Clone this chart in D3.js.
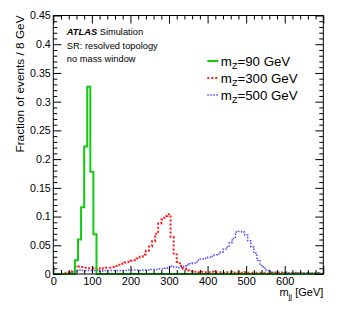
<!DOCTYPE html>
<html>
<head>
<meta charset="utf-8">
<script src="https://cdn.jsdelivr.net/npm/d3@7"></script>
<style>
  body { margin: 0; background: #fff; }
  svg { font-family: "Liberation Sans", Arial, Helvetica, sans-serif; }
</style>
</head>
<body>
<div id="chart"></div>
<script>
// bin low edges (8 GeV bins)
const binWidth = 8;
const binEdges = d3.range(0, 704, binWidth);

// m_Z = 90 GeV
const valuesZ90 = [
  0, 0, 0, 0, 0, 0, 0, 0.024, 0.060, 0.116, 0.222, 0.326, 0.178, 0.069,
  0, 0, 0, 0, 0, 0, 0, 0, 0, 0, 0, 0, 0, 0, 0, 0, 0, 0, 0, 0, 0, 0, 0, 0,
  0, 0, 0, 0, 0, 0, 0, 0, 0, 0, 0, 0, 0, 0, 0, 0, 0, 0, 0, 0, 0, 0, 0, 0,
  0, 0, 0, 0, 0, 0, 0, 0, 0, 0, 0, 0, 0, 0, 0, 0, 0, 0, 0, 0, 0, 0, 0, 0,
  0, 0
];
// m_Z = 300 GeV
const valuesZ300 = [
  0, 0, 0, 0.001, 0.002, 0.003, 0.005, 0.012, 0.013, 0.012, 0.011, 0.010,
  0.010, 0.009, 0.010, 0.009, 0.010, 0.011, 0.011, 0.012, 0.014, 0.016,
  0.018, 0.020, 0.021, 0.023, 0.024, 0.027, 0.030, 0.034, 0.041, 0.048,
  0.057, 0.070, 0.088, 0.095, 0.101, 0.104, 0.065, 0.034, 0.021, 0.014,
  0.009, 0.006, 0.005, 0.004, 0.004, 0.003, 0.004, 0.003, 0.003, 0.004,
  0.003, 0.003, 0.003, 0.002, 0.003, 0.003, 0.002, 0.003, 0.002, 0.002,
  0.003, 0.002, 0.002, 0.002, 0.002, 0.002, 0.002, 0.001, 0.002, 0.002,
  0.001, 0.002, 0.001, 0.002, 0.001, 0.001, 0.002, 0.001, 0.001, 0.001,
  0.001, 0.001, 0.001, 0.001, 0.001, 0.001
];
// m_Z = 500 GeV
const valuesZ500 = [
  0, 0, 0, 0, 0.001, 0.002, 0.004, 0.006, 0.007, 0.006, 0.006, 0.006,
  0.006, 0.006, 0.006, 0.005, 0.006, 0.006, 0.006, 0.006, 0.006, 0.006,
  0.006, 0.006, 0.007, 0.007, 0.007, 0.007, 0.006, 0.007, 0.007, 0.008,
  0.008, 0.008, 0.009, 0.009, 0.010, 0.012, 0.014, 0.012, 0.011, 0.011,
  0.013, 0.016, 0.018, 0.019, 0.021, 0.026, 0.026, 0.027, 0.029, 0.031,
  0.033, 0.035, 0.038, 0.043, 0.047, 0.055, 0.062, 0.073, 0.074, 0.073,
  0.068, 0.058, 0.047, 0.036, 0.024, 0.015, 0.010, 0.006, 0.004, 0.003,
  0.003, 0.003, 0.002, 0.003, 0.002, 0.002, 0.002, 0.002, 0.002, 0.002,
  0.002, 0.001, 0.002, 0.002, 0.001, 0.001
];

const seriesNames = ["90", "300", "500"];
const seriesColors = ["#11cc11", "#ff1a1a", "#4d4dff"];

const xMajor = [0, 100, 200, 300, 400, 500, 600, 700];
const xTickLabels = ["0", "100", "200", "300", "400", "500", "600", ""];
const yMajor = [0, 0.05, 0.1, 0.15, 0.2, 0.25, 0.3, 0.35, 0.4, 0.45];
const yTickLabels = ["0", "0.05", "0.1", "0.15", "0.2", "0.25", "0.3", "0.35", "0.4", "0.45"];

const W = 341, H = 327;
const margin = {top: 15.5, right: 17.7, bottom: 53, left: 53.3};
const width = W - margin.left - margin.right,
      height = H - margin.top - margin.bottom;

const svg = d3.select("#chart").append("svg")
  .attr("width", W).attr("height", H);

const g = svg.append("g")
  .attr("transform", `translate(${margin.left},${margin.top})`);

const x = d3.scaleLinear().domain([0, 700]).range([0, width]);
const y = d3.scaleLinear().domain([0, 0.45]).range([height, 0]);

g.append("defs").append("clipPath").attr("id", "plotclip")
  .append("rect").attr("x", 0).attr("y", -2).attr("width", width).attr("height", height + 4);

// histograms
const stepLine = d3.line()
  .x(d => x(d[0]))
  .y(d => y(d[1]))
  .curve(d3.curveStepAfter);

function histPoints(values) {
  const pts = binEdges.map((e, i) => [e, values[i]]);
  pts.push([binEdges[binEdges.length - 1] + binWidth, values[values.length - 1]]);
  return pts;
}

const hist = g.append("g").attr("clip-path", "url(#plotclip)");

hist.append("path")
  .datum(histPoints(valuesZ500))
  .attr("fill", "none")
  .attr("stroke", seriesColors[2])
  .attr("stroke-width", 1.5)
  .attr("stroke-dasharray", "1.5,1.5")
  .attr("d", stepLine);

hist.append("path")
  .datum(histPoints(valuesZ300))
  .attr("fill", "none")
  .attr("stroke", seriesColors[1])
  .attr("stroke-width", 2)
  .attr("stroke-dasharray", "2,2")
  .attr("d", stepLine);

hist.append("path")
  .datum(histPoints(valuesZ90))
  .attr("fill", "none")
  .attr("stroke", seriesColors[0])
  .attr("stroke-width", 2)
  .attr("d", stepLine);

// axes: ticks on all four sides, pointing inward
const xMinor = d3.range(0, 701, 20).filter(v => v % 100 !== 0);
const yMinor = d3.range(0, 46, 1).map(v => v / 100).filter((v, i) => i % 5 !== 0);

function styleAxis(sel) {
  sel.select(".domain").remove();
  sel.selectAll(".tick line").attr("stroke", "#000").attr("stroke-width", 1);
  sel.selectAll(".tick text").attr("fill", "#000").style("font-size", "10.7px");
}

g.append("g").attr("transform", `translate(0,${height})`)
  .call(d3.axisBottom(x).tickValues(xMajor).tickSize(-8).tickPadding(3)
    .tickFormat((d, i) => xTickLabels[i]))
  .call(styleAxis)
  .selectAll(".tick text").style("font-size", "11px");
g.append("g").attr("transform", `translate(0,${height})`)
  .call(d3.axisBottom(x).tickValues(xMinor).tickSize(-4).tickFormat(""))
  .call(styleAxis);
g.append("g")
  .call(d3.axisTop(x).tickValues(xMajor).tickSize(-8).tickFormat(""))
  .call(styleAxis);
g.append("g")
  .call(d3.axisTop(x).tickValues(xMinor).tickSize(-4).tickFormat(""))
  .call(styleAxis);

g.append("g")
  .call(d3.axisLeft(y).tickValues(yMajor).tickSize(-8).tickPadding(2.5)
    .tickFormat((d, i) => yTickLabels[i]))
  .call(styleAxis);
g.append("g")
  .call(d3.axisLeft(y).tickValues(yMinor).tickSize(-4).tickFormat(""))
  .call(styleAxis);
g.append("g").attr("transform", `translate(${width},0)`)
  .call(d3.axisRight(y).tickValues(yMajor).tickSize(-8).tickFormat(""))
  .call(styleAxis);
g.append("g").attr("transform", `translate(${width},0)`)
  .call(d3.axisRight(y).tickValues(yMinor).tickSize(-4).tickFormat(""))
  .call(styleAxis);

// frame
g.append("rect")
  .attr("x", 0).attr("y", 0).attr("width", width).attr("height", height)
  .attr("fill", "none").attr("stroke", "#000").attr("stroke-width", 1);

// axis titles
const xt = g.append("text")
  .attr("x", width).attr("y", height + 21.5)
  .attr("text-anchor", "end")
  .style("font-size", "11px");
xt.append("tspan").text("m");
xt.append("tspan").attr("dy", 3).style("font-size", "8px").text("jj");
xt.append("tspan").attr("dy", -3).text(" [GeV]");

g.append("text")
  .attr("transform", `translate(${-29},0) rotate(-90)`)
  .attr("text-anchor", "end")
  .style("font-size", "11.8px")
  .text("Fraction of events / 8 GeV");

// ATLAS label
const atl = g.append("text").attr("x", 13.5).attr("y", 19.3).style("font-size", "9.3px");
atl.append("tspan").style("font-weight", "bold").style("font-style", "italic").text("ATLAS");
atl.append("tspan").text(" Simulation");
g.append("text").attr("x", 13.5).attr("y", 33).style("font-size", "9.3px").text("SR: resolved topology");
g.append("text").attr("x", 13.5).attr("y", 46.7).style("font-size", "9.3px").text("no mass window");

// legend
const legendStyles = [
  {w: 2, dash: null},
  {w: 2, dash: "2,2"},
  {w: 1.5, dash: "1.5,1.5"}
];
const leg = g.append("g").attr("transform", "translate(154,45.5)");
seriesNames.forEach((name, i) => {
  const row = leg.append("g").attr("transform", `translate(0,${i * 17})`);
  row.append("line")
    .attr("x1", 0).attr("x2", 11)
    .attr("y1", 0).attr("y2", 0)
    .attr("stroke", seriesColors[i])
    .attr("stroke-width", legendStyles[i].w)
    .attr("stroke-dasharray", legendStyles[i].dash);
  const t = row.append("text").attr("x", 13.5).attr("y", 5).style("font-size", "13.3px");
  t.append("tspan").text("m");
  t.append("tspan").attr("dy", 3).style("font-size", "9px").text("Z");
  t.append("tspan").attr("dy", -3).text("=" + name + " GeV");
});
</script>
</body>
</html>
